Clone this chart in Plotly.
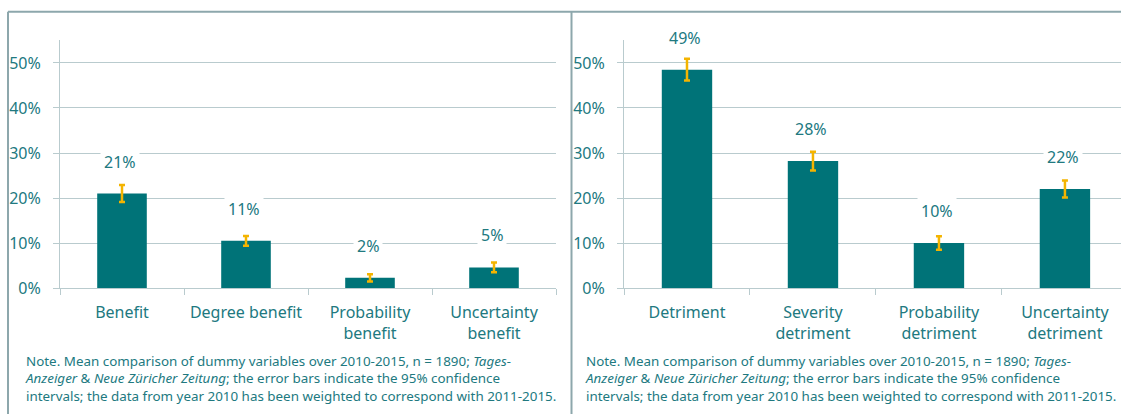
import plotly.graph_objects as go

# left panel: benefit variables
benefit_labels = ["Benefit", "Degree benefit", "Probability<br>benefit", "Uncertainty<br>benefit"]
benefit_values = [0.21, 0.105, 0.023, 0.046]
benefit_errors = [0.019, 0.011, 0.008, 0.011]
benefit_text = ["21%", "11%", "2%", "5%"]

# right panel: detriment variables
detriment_labels = ["Detriment", "Severity<br>detriment", "Probability<br>detriment", "Uncertainty<br>detriment"]
detriment_values = [0.485, 0.282, 0.10, 0.22]
detriment_errors = [0.024, 0.021, 0.015, 0.019]
detriment_text = ["49%", "28%", "10%", "22%"]

y_ticks = [0, 0.1, 0.2, 0.3, 0.4, 0.5]

note = ("Note. Mean comparison of dummy variables over 2010-2015, n = 1890; <i>Tages-</i><br>"
        "<i>Anzeiger</i> &amp; <i>Neue Züricher Zeitung</i>; the error bars indicate the 95% confidence<br>"
        "intervals; the data from year 2010 has been weighted to correspond with 2011-2015.")

W, H = 1121, 414
BAR = "#007378"
ERR = "#F4B400"
TXT = "#21797F"
GRID = "#B9CBCE"
BORDER = "#8DA7AC"
FONT = "Noto Sans"

fig = go.Figure()

panels = [
    (benefit_labels, benefit_values, benefit_errors, benefit_text, "x", "y"),
    (detriment_labels, detriment_values, detriment_errors, detriment_text, "x2", "y2"),
]

for labels, vals, errs, texts, xa, ya in panels:
    fig.add_trace(go.Bar(
        x=labels, y=vals, xaxis=xa, yaxis=ya,
        marker=dict(color=BAR, line=dict(width=0)),
        width=0.4,
        error_y=dict(type="data", array=errs, color=ERR, thickness=2.5, width=3),
        showlegend=False, hoverinfo="skip",
    ))
    for lab, v, t in zip(labels, vals, texts):
        fig.add_annotation(
            x=lab, y=v, xref=xa, yref=ya, text=t, showarrow=False,
            yshift=32, xshift=-2, bgcolor="white", borderpad=3,
            font=dict(family=FONT, size=16, color=TXT),
        )

xcommon = dict(
    type="category", showgrid=False, showline=True, linecolor=GRID, linewidth=1,
    ticks="outside", tickson="boundaries", ticklen=6, tickcolor=GRID,
    tickfont=dict(family=FONT, size=16, color=TXT), ticklabelstandoff=10,
    fixedrange=True,
)
ycommon = dict(
    range=[0, 0.55], tickvals=y_ticks, tickformat=".0%",
    showgrid=True, gridcolor=GRID, gridwidth=1,
    showline=True, linecolor=GRID, linewidth=1,
    ticks="outside", ticklen=6, tickcolor=GRID, zeroline=False,
    tickfont=dict(family=FONT, size=16, color=TXT), ticklabelstandoff=9,
    fixedrange=True,
)

fig.update_layout(
    width=W, height=H,
    margin=dict(l=0, r=0, t=0, b=0),
    paper_bgcolor="white", plot_bgcolor="white",
    bargap=0.6,
    xaxis=dict(domain=[60 / W, 556 / W], range=[-0.5, 3.5], anchor="y", **xcommon),
    yaxis=dict(domain=[(H - 296) / H, (H - 41.5) / H], anchor="x", **ycommon),
    xaxis2=dict(domain=[624 / W, 1.0], range=[-0.5, 3.445], anchor="y2", **xcommon),
    yaxis2=dict(domain=[(H - 296) / H, (H - 41.5) / H], anchor="x2", **ycommon),
)

# panel frames
fig.add_shape(type="line", xref="paper", yref="paper", x0=8 / W, x1=1, y0=(H - 12) / H, y1=(H - 12) / H,
              line=dict(color=BORDER, width=2))
fig.add_shape(type="line", xref="paper", yref="paper", x0=8 / W, x1=8 / W, y0=-0.05, y1=(H - 12) / H,
              line=dict(color=BORDER, width=2))
fig.add_shape(type="line", xref="paper", yref="paper", x0=571.5 / W, x1=571.5 / W, y0=-0.05, y1=(H - 12) / H,
              line=dict(color=BORDER, width=2))

for x0 in (23, 583):
    fig.add_annotation(
        x=x0 / W, y=(H - 360) / H, xref="paper", yref="paper",
        xanchor="left", yanchor="top", align="left", showarrow=False,
        text=note, font=dict(family=FONT, size=13.4, color=TXT),
    )

# fit the figure to the actual browser viewport
page_fix = (
    "document.documentElement.style.margin='0';"
    "document.body.style.margin='0';"
    "document.documentElement.style.overflow='hidden';"
    "document.body.style.overflow='hidden';"
    "var gd=document.getElementById('{plot_id}');"
    "Plotly.relayout(gd,{width:window.innerWidth,height:window.innerHeight});"
)
fig.write_html("out.html", config={"displayModeBar": False}, post_script=page_fix)
